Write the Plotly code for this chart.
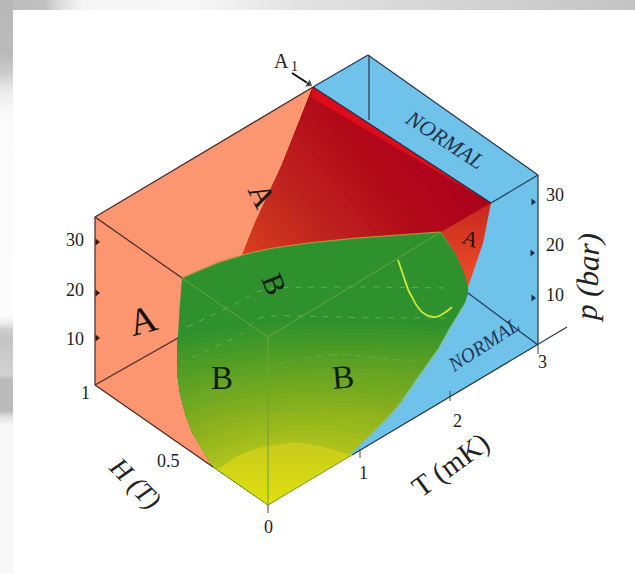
import numpy as np
import plotly.graph_objects as go

# ---- surfaces, in the picture's projected coordinates (x, y) ----
PEACH_X = [95, 313, 300, 213, 95]
PEACH_Y = [217, 87, 300, 467, 385]
BLUE_X = [313, 368, 538, 538, 352, 400, 491]
BLUE_Y = [87, 55, 175, 345, 455, 300, 203]

RED_X = [313, 491, 441, 370, 317, 263, 242, 255, 282]
RED_Y = [87, 203, 232, 237, 242, 250, 255, 223, 165]
STRIP_X = [313, 491, 400, 311]
STRIP_Y = [87, 203, 150, 97]
RED_RIGHT_X = [441, 491, 483, 470, 468, 457]
RED_RIGHT_Y = [232, 203, 243, 283, 287, 257]

GREEN_TOP_X = [182, 217, 263, 317, 370, 441]
GREEN_TOP_Y = [278, 263, 250, 242, 237, 232]
GREEN_RIGHT_X = [441, 457, 468, 463, 452, 440, 423, 403, 383, 352]
GREEN_RIGHT_Y = [232, 257, 287, 307, 325, 347, 370, 400, 423, 453]
GREEN_LEFT_X = [213, 190, 178, 178, 182]
GREEN_LEFT_Y = [467, 427, 380, 333, 278]
ORIGIN = (268, 505)

CAP_X = [217, 238, 263, 303, 352]
CAP_Y = [469, 456, 447, 443, 455]

# shading colours
GREEN_SHADES = [(175, 195, 28), (135, 175, 30), (90, 160, 36), (46, 145, 45)]
RED_SHADES = [(215, 62, 30), (190, 35, 30), (178, 10, 25), (172, 0, 30)]

# helium-3 curves and box
YELLOW_X = [398, 407, 420, 433, 443, 452]
YELLOW_Y = [260, 287, 310, 317, 314, 307]
DASH_CURVES = [
    ([187, 230, 263, 310, 370, 450], [327, 307, 290, 287, 287, 288]),
    ([180, 237, 263, 320, 385, 450], [363, 337, 317, 317, 318, 318]),
    ([200, 268, 330, 373, 417], [410, 368, 355, 357, 362]),
    ([235, 275, 315], [407, 409, 410]),
]
BOX_DARK = [
    ([95, 95], [217, 385]), ([95, 313], [217, 87]), ([95, 182], [217, 278]),
    ([95, 178], [385, 338]), ([95, 213], [385, 467]),
]
BOX_BLUE = [
    ([313, 368], [87, 55]), ([368, 538], [55, 175]), ([538, 538], [175, 345]),
    ([369, 369], [55, 120]), ([491, 538], [203, 175]), ([468, 538], [293, 345]),
    ([352, 567], [455, 327]), ([313, 491], [87, 203]),
]
BOX_INNER = [([182, 268], [278, 337]), ([268, 441], [337, 232]), ([268, 268], [337, 505]),
             ([268, 352], [505, 455]), ([268, 213], [505, 467])]
TICK_SEGS = [([268, 268], [505, 513]), ([360, 360], [449, 458]), ([450, 450], [391, 401]),
             ([538, 538], [345, 354])]
P_TICK_LEFT_X = [97, 97, 97]
P_TICK_LEFT_Y = [338, 293, 242]
P_TICK_RIGHT_X = [533, 532, 533]
P_TICK_RIGHT_Y = [298, 253, 202]
ARROW_X = [292, 309]
ARROW_Y = [73, 84]

# slide background
TOP_STOPS = [(0, 188), (0.07, 192), (0.1, 226), (0.13, 246), (0.3, 248), (0.47, 226), (1, 196)]
LEFT_STOPS = [(0, 185), (0.09, 186), (0.125, 202), (0.16, 236), (0.2, 250), (0.55, 252), (0.564, 235),
              (0.576, 205), (0.593, 196), (0.654, 210), (0.663, 186), (0.716, 186), (0.728, 225),
              (0.742, 248), (1, 248)]

# (text, x, y, size, angle, colour, italic)
LABELS = [
    ("A", 281, 61, 20, 0, "#222", False),
    ("1", 294, 66, 14, 0, "#222", False),
    ("NORMAL", 445, 139, 22, 33, "#23304a", True),
    ("NORMAL", 483, 345, 20, -33, "#1d3a5c", True),
    ("A", 262, 195, 32, 64, "#1a1a1a", False),
    ("A", 143, 320, 38, -15, "#1a1010", False),
    ("A", 471, 239, 21, 20, "#2a1512", False),
    ("B", 275, 284, 30, 68, "#0e1e0e", False),
    ("B", 222, 378, 33, 0, "#0e1e0e", False),
    ("B", 343, 377, 33, -5, "#0e1e0e", False),
    ("10", 75, 339, 18, 0, "#222", False),
    ("20", 75, 290, 18, 0, "#222", False),
    ("30", 75, 240, 18, 0, "#222", False),
    ("10", 555, 295, 18, 0, "#222", False),
    ("20", 555, 245, 18, 0, "#222", False),
    ("30", 555, 195, 18, 0, "#222", False),
    ("1", 85, 393, 18, 0, "#222", False),
    ("0.5", 168, 461, 18, 0, "#222", False),
    ("0", 268, 527, 18, 0, "#222", False),
    ("1", 363, 473, 18, 0, "#222", False),
    ("2", 457, 421, 18, 0, "#222", False),
    ("3", 542, 362, 18, 0, "#222", False),
    ("T (mK)", 450, 465, 29, -36, "#222", False),
    ("H (T)", 135, 483, 27, 45, "#222", True),
    ("p (bar)", 587, 278, 31, -88, "#222", True),
]


def smooth(xs, ys, n=12):
    """Catmull-Rom outline through a curve's key points."""
    p = np.column_stack([xs, ys]).astype(float)
    p = np.vstack([2 * p[0] - p[1], p, 2 * p[-1] - p[-2]])
    out = []
    for i in range(1, len(p) - 2):
        for t in np.linspace(0, 1, n, endpoint=False):
            a, b, c, d = p[i - 1], p[i], p[i + 1], p[i + 2]
            out.append(0.5 * (2 * b + (c - a) * t + (2 * a - 5 * b + 4 * c - d) * t ** 2
                              + (3 * b - a - 3 * c + d) * t ** 3))
    out.append(p[-2])
    return np.array(out)


def rgb(c):
    return "rgb(%d,%d,%d)" % tuple(int(round(v)) for v in c)


def shade(stops, t):
    s = np.array(stops, float)
    u = np.linspace(0, 1, len(s))
    return [np.interp(t, u, s[:, k]) for k in range(3)]


def grey_scale(stops):
    return [[p, "rgb(%d,%d,%d)" % (g, g, g)] for p, g in stops]


def poly(x, y, color=None, **kw):
    d = dict(x=list(x), y=list(y), mode="lines", fill="toself", line=dict(width=0),
             hoverinfo="skip", showlegend=False)
    if color:
        d["fillcolor"] = color
    d.update(kw)
    return go.Scatter(**d)


def line(x, y, color, width=1.2, dash=None):
    return go.Scatter(x=list(x), y=list(y), mode="lines", hoverinfo="skip", showlegend=False,
                      line=dict(color=color, width=width, dash=dash))


def clip(p, d, s):
    """Keep the part of polygon p with p.d >= s."""
    out = []
    for i in range(len(p)):
        a, b = p[i], p[(i + 1) % len(p)]
        sa, sb = a @ d - s, b @ d - s
        if sa >= 0:
            out.append(a)
        if sa * sb < 0:
            out.append(a + (b - a) * sa / (sa - sb))
    return np.array(out)


fig = go.Figure()

# slide background
fig.add_trace(poly([0, 635, 635, 0], [0, 0, 10, 10],
                   fillgradient=dict(type="horizontal", start=0, stop=635,
                                     colorscale=grey_scale(TOP_STOPS))))
fig.add_trace(poly([0, 13, 13, 0], [0, 0, 573, 573],
                   fillgradient=dict(type="vertical", start=0, stop=573,
                                     colorscale=grey_scale(LEFT_STOPS))))

# flat faces
fig.add_trace(poly(PEACH_X, PEACH_Y, "#FB9670"))
fig.add_trace(poly(BLUE_X, BLUE_Y, "#6FC3EA"))

# red surface: bands across its slope
red = np.column_stack([RED_X, RED_Y]).astype(float)
red_dir = np.array([0.78, -0.62])
s_lo, s_hi = 31.0, 257.0
fig.add_trace(poly(red[:, 0], red[:, 1], rgb(RED_SHADES[0])))
for t in np.linspace(0, 1, 36)[1:]:
    part = clip(red, red_dir, s_lo + (s_hi - s_lo) * t)
    if len(part) > 2:
        fig.add_trace(poly(part[:, 0], part[:, 1], rgb(shade(RED_SHADES, t))))
fig.add_trace(poly(STRIP_X, STRIP_Y, "rgb(222,12,26)"))
fig.add_trace(poly(RED_RIGHT_X, RED_RIGHT_Y,
                   fillgradient=dict(type="vertical", start=205, stop=287,
                                     colorscale=[[0, "rgb(200,40,30)"], [1, "rgb(240,80,40)"]])))

# green surface
top = smooth(GREEN_TOP_X, GREEN_TOP_Y)
right = smooth(GREEN_RIGHT_X, GREEN_RIGHT_Y)
left = smooth(GREEN_LEFT_X, GREEN_LEFT_Y)
outline = np.vstack([top, right, [ORIGIN], left])
fig.add_trace(poly(outline[:, 0], outline[:, 1], rgb(GREEN_SHADES[-1])))

# nested caps shade it towards yellow near the origin
left_part = left[left[:, 1] >= 333]
right_part = right[right[:, 1] >= 322][::-1]
for t in np.linspace(1, 0, 28):
    nl = max(2, int(round(1 + t * (len(left_part) - 1))))
    nr = max(2, int(round(1 + t * (len(right_part) - 1))))
    L, R = left_part[:nl], right_part[:nr]
    apex = np.array([285 - 10 * t, 445 - 125 * t])
    ctrl = 2 * apex - (L[-1] + R[-1]) / 2
    u = np.linspace(0, 1, 30)[:, None]
    arc = (1 - u) ** 2 * L[-1] + 2 * u * (1 - u) * ctrl + u ** 2 * R[-1]
    shape = np.vstack([[ORIGIN], L, arc, R[::-1]])
    fig.add_trace(poly(shape[:, 0], shape[:, 1], rgb(shade(GREEN_SHADES, t))))

cap = smooth(CAP_X, CAP_Y)
cap_poly = np.vstack([[ORIGIN], cap])
fig.add_trace(poly(cap_poly[:, 0], cap_poly[:, 1],
                   fillgradient=dict(type="vertical", start=443, stop=505,
                                     colorscale=[[0, "rgb(200,203,28)"], [1, "rgb(224,224,14)"]])))

# rims of the surfaces
fig.add_trace(line(top[:, 0], top[:, 1], "rgb(165,150,55)", 1.2))
fig.add_trace(line(right[36:, 0], right[36:, 1], "rgb(125,195,170)", 1.6))

# box and curves
for xs, ys in DASH_CURVES:
    c = smooth(xs, ys)
    fig.add_trace(line(c[:, 0], c[:, 1], "rgb(100,175,70)", 1, "6px,7px"))
for xs, ys in BOX_INNER:
    fig.add_trace(line(xs, ys, "rgb(105,165,55)", 1))
for xs, ys in BOX_DARK:
    fig.add_trace(line(xs, ys, "#46282a", 1.2))
for xs, ys in BOX_BLUE:
    fig.add_trace(line(xs, ys, "#25384f", 1.2))
for xs, ys in TICK_SEGS:
    fig.add_trace(line(xs, ys, "#444", 1))
yc = smooth(YELLOW_X, YELLOW_Y)
fig.add_trace(line(yc[:, 0], yc[:, 1], "rgb(205,232,60)", 1.8))
for xs, ys, col in ((P_TICK_LEFT_X, P_TICK_LEFT_Y, "#3a1510"), (P_TICK_RIGHT_X, P_TICK_RIGHT_Y, "#1c2c44")):
    fig.add_trace(go.Scatter(x=xs, y=ys, mode="markers", hoverinfo="skip", showlegend=False,
                             marker=dict(symbol="triangle-right", size=6, color=col)))
fig.add_trace(go.Scatter(x=ARROW_X, y=ARROW_Y, mode="lines+markers", hoverinfo="skip", showlegend=False,
                         line=dict(color="#111", width=2),
                         marker=dict(symbol=["circle", "triangle-up"], size=[0, 9], color="#111",
                                     angleref="previous")))

for text, x, y, size, angle, color, italic in LABELS:
    fig.add_annotation(x=x, y=y, text=text, showarrow=False, textangle=angle,
                       font=dict(family="Liberation Serif", size=size, color=color,
                                 style="italic" if italic else "normal"))

fig.update_xaxes(range=[0, 635], visible=False, fixedrange=True)
fig.update_yaxes(range=[573, 0], visible=False, fixedrange=True)
fig.update_layout(width=635, height=573, margin=dict(l=0, r=0, t=0, b=0),
                  plot_bgcolor="white", paper_bgcolor="white", showlegend=False)
fig.write_html("out.html", config={"displayModeBar": False},
               post_script="document.body.style.margin='0';document.documentElement.style.overflow='hidden';")
